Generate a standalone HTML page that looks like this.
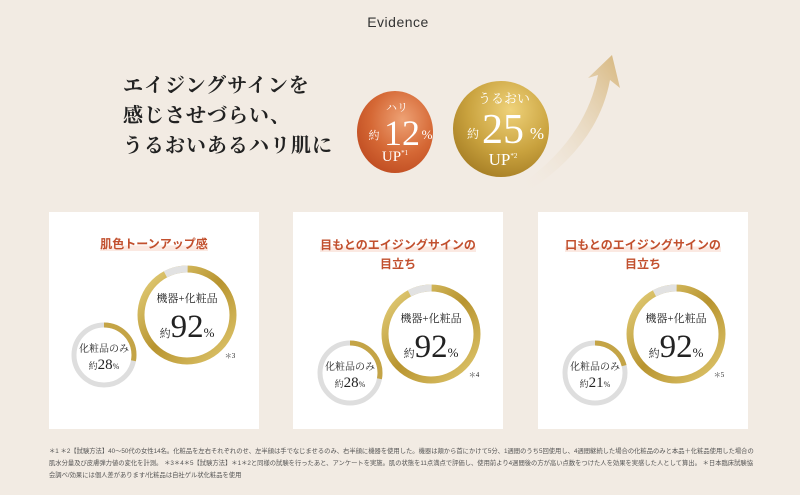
<!DOCTYPE html>
<html><head><meta charset="utf-8"><style>
html,body{margin:0;padding:0;}
body{width:800px;height:495px;background:#f2ebe3;position:relative;overflow:hidden;font-family:"Liberation Serif","Noto Serif CJK SC",serif;}
.card{position:absolute;top:212px;width:210px;height:217px;background:#fff;}
.t{position:absolute;left:0;width:100%;text-align:center;font-family:"Liberation Sans","Noto Sans CJK JP",sans-serif;font-weight:bold;font-size:12px;color:#c2502e;}
.t span{background:linear-gradient(transparent 60%,#fbe9e2 60%);}
svg{position:absolute;left:0;top:0;}
</style></head><body>
<div style="position:absolute;top:14px;width:100%;text-align:center;font-family:'Liberation Sans',sans-serif;font-size:14px;color:#333;letter-spacing:0.5px;left:-2px">Evidence</div>
<div style="position:absolute;left:123px;top:71px;font-size:20px;line-height:30px;color:#222;letter-spacing:1px;font-weight:bold;font-family:'Liberation Serif','Noto Serif CJK SC',serif">エイジングサインを<br>感じさせづらい、<br>うるおいあるハリ肌に</div>
<div class="card" style="left:49px"><div class="t" style="top:23px"><span>肌色トーンアップ感</span></div></div>
<div class="card" style="left:293px"><div class="t" style="top:24px;line-height:19px"><span>目もとのエイジングサインの</span><br>目立ち</div></div>
<div class="card" style="left:538px"><div class="t" style="top:24px;line-height:19px"><span>口もとのエイジングサインの</span><br>目立ち</div></div>
<svg width="800" height="495" viewBox="0 0 800 495">
<defs>
<radialGradient id="or" cx="0.6" cy="0.35" r="0.7"><stop offset="0" stop-color="#eea275"/><stop offset="0.6" stop-color="#d56835"/><stop offset="1" stop-color="#c04d22"/></radialGradient>
<radialGradient id="go" cx="0.6" cy="0.3" r="0.75"><stop offset="0" stop-color="#efd27a"/><stop offset="0.6" stop-color="#c9a23e"/><stop offset="1" stop-color="#a67e25"/></radialGradient>
<linearGradient id="ring" x1="0" y1="0" x2="1" y2="1"><stop offset="0" stop-color="#e6d27f"/><stop offset="0.5" stop-color="#b8942f"/><stop offset="1" stop-color="#e0c870"/></linearGradient>
<linearGradient id="arr" x1="0" y1="1" x2="1" y2="0"><stop offset="0" stop-color="#f2ebe3" stop-opacity="0"/><stop offset="1" stop-color="#d7b77e"/></linearGradient>
</defs>
<path d="M520 185 Q585 140 598 75 L588 78 L612 55 L620 88 L610 80 Q598 145 530 190 Z" fill="url(#arr)"/>
<ellipse cx="395" cy="132" rx="38" ry="41" fill="url(#or)"/>
<ellipse cx="501" cy="129" rx="48" ry="48" fill="url(#go)"/>
<g fill="#fff" font-family="Liberation Serif,Noto Serif CJK SC,serif" text-anchor="middle">
<text x="397" y="111" font-size="11">ハリ</text>
<text x="374" y="139" font-size="11">約</text>
<text x="402" y="145" font-size="36">12</text>
<text x="427" y="139" font-size="13">%</text>
<text x="395" y="161" font-size="15">UP<tspan font-size="7" dy="-6">*1</tspan></text>
<text x="504" y="103" font-size="13">うるおい</text>
<text x="473" y="138" font-size="12">約</text>
<text x="503" y="143" font-size="42">25</text>
<text x="537" y="139" font-size="17">%</text>
<text x="503" y="165" font-size="17">UP<tspan font-size="7" dy="-7">*2</tspan></text>
</g>
<g font-family="Liberation Serif,Noto Serif CJK SC,serif" fill="#222" text-anchor="middle">
<circle cx="104" cy="355" r="30" fill="none" stroke="#dedede" stroke-width="5"/>
<circle cx="104" cy="355" r="30" fill="none" stroke="#c4a446" stroke-width="5" stroke-dasharray="52.8 200" transform="rotate(-90 104 355)"/>
<text x="104" y="352" font-size="10">化粧品のみ</text>
<text x="104" y="369" font-size="15"><tspan font-size="9">約</tspan>28<tspan font-size="8">%</tspan></text>
<circle cx="187" cy="315" r="46" fill="none" stroke="url(#ring)" stroke-width="7"/>
<circle cx="187" cy="315" r="46" fill="none" stroke="#e2e2e2" stroke-width="7" stroke-dasharray="23.1 300" transform="rotate(-118 187 315)"/>
<text x="187" y="302" font-size="11">機器+化粧品</text>
<text x="187" y="337" font-size="33"><tspan font-size="11">約</tspan>92<tspan font-size="13">%</tspan></text>
<text x="230" y="358" font-size="7">＊3</text>
<circle cx="350" cy="373" r="30" fill="none" stroke="#dedede" stroke-width="5"/>
<circle cx="350" cy="373" r="30" fill="none" stroke="#c4a446" stroke-width="5" stroke-dasharray="52.8 200" transform="rotate(-90 350 373)"/>
<text x="350" y="370" font-size="10">化粧品のみ</text>
<text x="350" y="387" font-size="15"><tspan font-size="9">約</tspan>28<tspan font-size="8">%</tspan></text>
<circle cx="431" cy="334" r="46" fill="none" stroke="url(#ring)" stroke-width="7"/>
<circle cx="431" cy="334" r="46" fill="none" stroke="#e2e2e2" stroke-width="7" stroke-dasharray="23.1 300" transform="rotate(-118 431 334)"/>
<text x="431" y="322" font-size="11">機器+化粧品</text>
<text x="431" y="357" font-size="33"><tspan font-size="11">約</tspan>92<tspan font-size="13">%</tspan></text>
<text x="474" y="377" font-size="7">＊4</text>
<circle cx="595" cy="373" r="30" fill="none" stroke="#dedede" stroke-width="5"/>
<circle cx="595" cy="373" r="30" fill="none" stroke="#c4a446" stroke-width="5" stroke-dasharray="39.6 200" transform="rotate(-90 595 373)"/>
<text x="595" y="370" font-size="10">化粧品のみ</text>
<text x="595" y="387" font-size="15"><tspan font-size="9">約</tspan>21<tspan font-size="8">%</tspan></text>
<circle cx="676" cy="334" r="46" fill="none" stroke="url(#ring)" stroke-width="7"/>
<circle cx="676" cy="334" r="46" fill="none" stroke="#e2e2e2" stroke-width="7" stroke-dasharray="23.1 300" transform="rotate(-118 676 334)"/>
<text x="676" y="322" font-size="11">機器+化粧品</text>
<text x="676" y="357" font-size="33"><tspan font-size="11">約</tspan>92<tspan font-size="13">%</tspan></text>
<text x="719" y="377" font-size="7">＊5</text>
</g>
</svg>
<div style="position:absolute;left:49px;top:446px;width:710px;font-family:'Liberation Sans','Noto Sans CJK JP',sans-serif;font-size:6.3px;line-height:12px;color:#555;">＊1 ＊2【試験方法】40～50代の女性14名。化粧品を左右それぞれのせ、左半顔は手でなじませるのみ、右半顔に機器を使用した。機器は頬から首にかけて5分、1週間のうち5回使用し、4週間継続した場合の化粧品のみと本品＋化粧品使用した場合の肌水分量及び皮膚弾力値の変化を計測。 ＊3＊4＊5【試験方法】＊1＊2と同様の試験を行ったあと、アンケートを実施。肌の状態を11点満点で評価し、使用前より4週間後の方が高い点数をつけた人を効果を実感した人として算出。 ＊日本臨床試験協会調べ/効果には個人差があります/化粧品は自社ゲル状化粧品を使用</div>
</body></html>
